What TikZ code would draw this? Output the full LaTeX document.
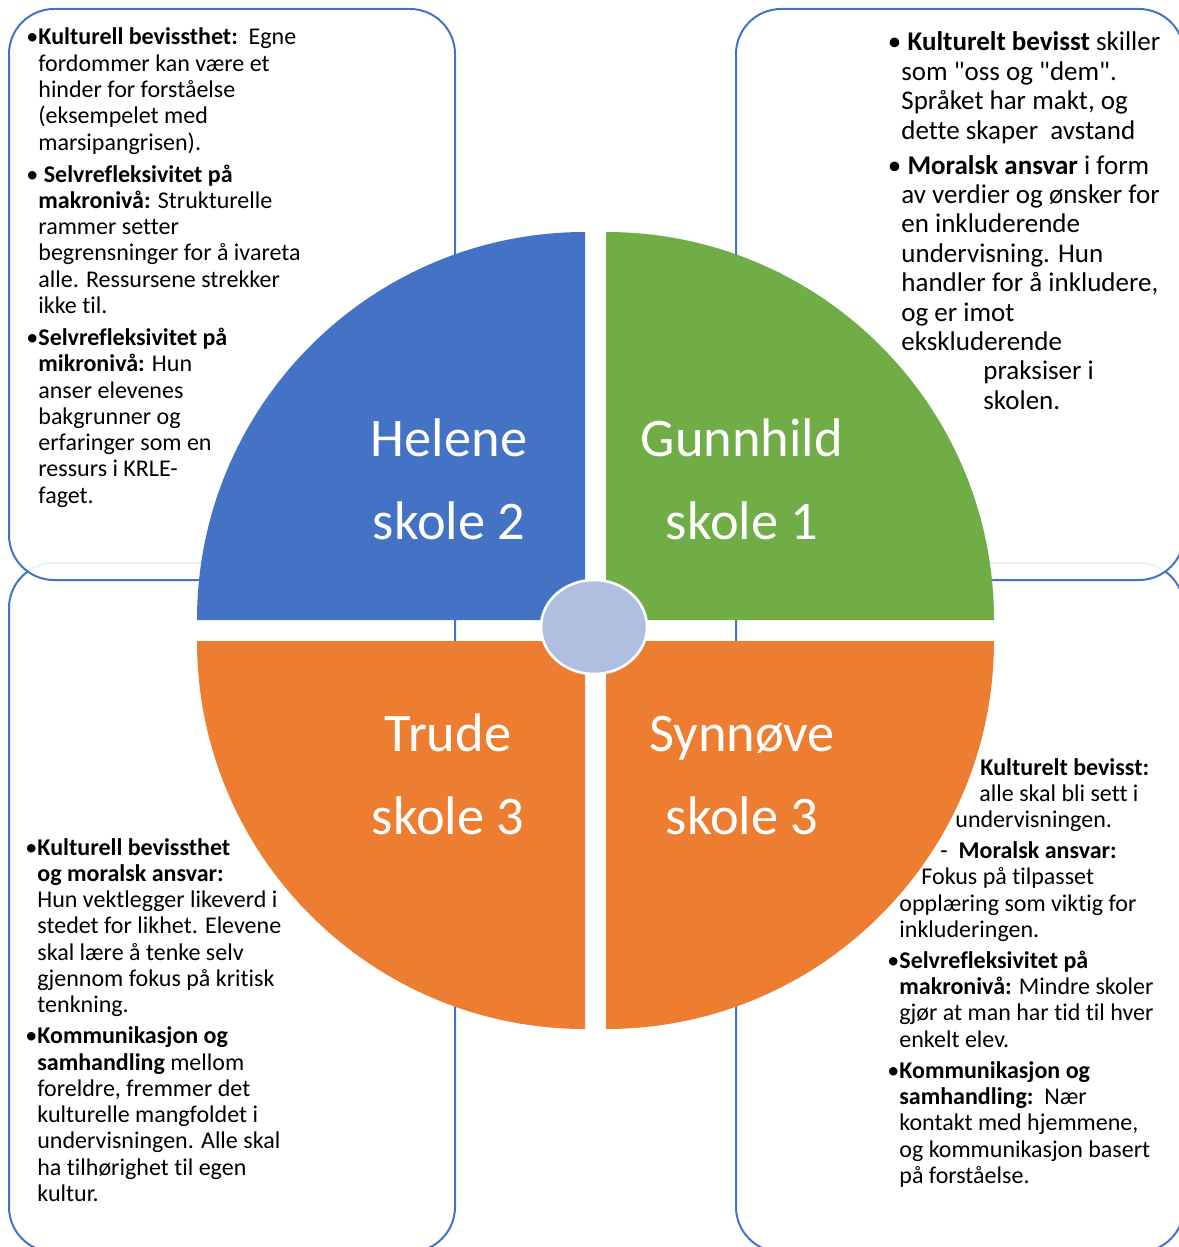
\documentclass[tikz,border=0pt]{standalone}
\usepackage{fontspec}
\setmainfont{Carlito}[Ligatures=NoCommon]
\newfontfamily\plainfont{Carlito}
\definecolor{accblue}{HTML}{4472C4}
\definecolor{accgreen}{HTML}{70AD47}
\definecolor{accorange}{HTML}{ED7D31}
\definecolor{hubblue}{RGB}{176,190,224}
\newcommand{\blk}[1]{\parbox[t]{200pt}{\raggedright #1}}
\newcommand{\twolines}[2]{\parbox[t]{130pt}{\centering #1\\#2}}
\newcommand{\bul}{\leavevmode\llap{•}}
\newcommand{\dq}{{\plainfont"}}

\begin{document}
\begin{tikzpicture}[x=0.5pt,y=-0.5pt,
  infobox/.style={draw=accblue,line width=1pt,rounded corners=22.5pt,fill=white,fill opacity=0.9,draw opacity=1},
  txt/.style={anchor=base west,inner sep=0pt,font=\fontsize{12}{13.15}\selectfont},
  txtbig/.style={anchor=base west,inner sep=0pt,font=\fontsize{13.5}{14.7}\selectfont},
  lbl/.style={anchor=base,inner sep=0pt,text=white,font=\fontsize{27.2}{41.5}\selectfont}]
\useasboundingbox (0,0) rectangle (1178,1247);
% the four text boxes
\draw[infobox] (9,563) rectangle (455,1252);
\draw[infobox] (736,563) rectangle (1184,1252);
\draw[infobox] (9,9) rectangle (455,580);
\draw[infobox] (736,9) rectangle (1184,580);
% texts
\node[txt] (helenetxt) at (38,45) {\blk{%
\bul\textbf{Kulturell bevissthet:}\ \ Egne\\
fordommer kan være et\\
hinder for forståelse\\
(eksempelet med\\
marsipangrisen).\\[2.8pt]
\bul\ \textbf{Selvrefleksivitet på}\\
\textbf{makronivå:} Strukturelle\\
rammer setter\\
begrensninger for å ivareta\\
alle. Ressursene strekker\\
ikke til.\\[2.8pt]
\bul\textbf{Selvrefleksivitet på}\\
\textbf{mikronivå:} Hun\\
anser elevenes\\
bakgrunner og\\
erfaringer som en\\
ressurs i KRLE-\\
faget.}};
\node[txtbig] (gunnhildtxt) at (901,51) {\blk{%
\bul\ \textbf{Kulturelt bevisst} skiller\\
som \dq oss og \dq dem\dq.\\
Språket har makt, og\\
dette skaper\ \ avstand\\[2.8pt]
\bul\ \textbf{Moralsk ansvar} i form\\
av verdier og ønsker for\\
en inkluderende\\
undervisning. Hun\\
handler for å inkludere,\\
og er imot\\
ekskluderende\\
\hspace*{41pt}praksiser i\\
\hspace*{41pt}skolen.}};
\node[txt] (trudetxt) at (37,855) {\blk{%
\bul\textbf{Kulturell bevissthet}\\
\textbf{og moralsk ansvar:}\\
Hun vektlegger likeverd i\\
stedet for likhet. Elevene\\
skal lære å tenke selv\\
gjennom fokus på kritisk\\
tenkning.\\[2.3pt]
\bul\textbf{Kommunikasjon og}\\
\textbf{samhandling} mellom\\
foreldre, fremmer det\\
kulturelle mangfoldet i\\
undervisningen. Alle skal\\
ha tilhørighet til egen\\
kultur.}};
\node[txt] (synnovetxt) at (899,775) {\blk{%
\hspace*{40.5pt}\textbf{Kulturelt bevisst:}\\
\hspace*{40pt}alle skal bli sett i\\
\hspace*{28pt}undervisningen.\\[2.3pt]
\hspace*{20.5pt}-\ \ \textbf{Moralsk ansvar:}\\
\hspace*{11pt}Fokus på tilpasset\\
opplæring som viktig for\\
inkluderingen.\\[2.3pt]
\bul\textbf{Selvrefleksivitet på}\\
\textbf{makronivå:} Mindre skoler\\
gjør at man har tid til hver\\
enkelt elev.\\[2.3pt]
\bul\textbf{Kommunikasjon og}\\
\textbf{samhandling:}\ \ Nær\\
kontakt med hjemmene,\\
og kommunikasjon basert\\
på forståelse.}};
% the pie
\fill[accblue] (585,620) -- ++(-388,0) arc[start angle=180,end angle=270,radius=388] -- cycle;
\fill[accgreen] (606,620) -- ++(0,-388) arc[start angle=270,end angle=360,radius=388] -- cycle;
\fill[accorange] (585,641) -- ++(-388,0) arc[start angle=180,end angle=90,radius=388] -- cycle;
\fill[accorange] (606,641) -- ++(388,0) arc[start angle=0,end angle=90,radius=388] -- cycle;
\filldraw[fill=hubblue,draw=white,line width=1.3pt] (594,627) ellipse [x radius=53,y radius=47];
% names
\node[lbl] (helene) at (449,456) {\twolines{Helene}{skole 2}};
\node[lbl] (gunnhild) at (742,456) {\twolines{Gunnhild}{skole 1}};
\node[lbl] (trude) at (448,751) {\twolines{Trude}{skole 3}};
\node[lbl] (synnove) at (742,751) {\twolines{Synnøve}{skole 3}};
\end{tikzpicture}
\end{document}
